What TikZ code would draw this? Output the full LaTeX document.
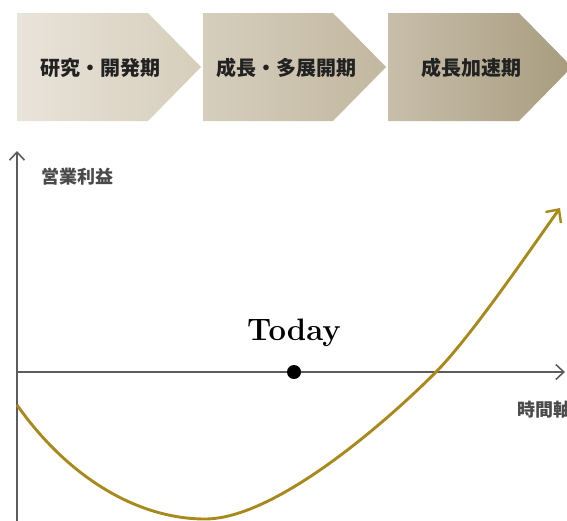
\documentclass[tikz,border=0pt]{standalone}
\usepackage{fontspec}
\newfontfamily\jpfont{Noto Sans CJK JP}
\usetikzlibrary{arrows.meta}
\definecolor{axisgray}{HTML}{5C5C5C}
\definecolor{gold}{HTML}{A8891C}
\definecolor{txtdark}{HTML}{222222}
\definecolor{cA}{HTML}{E9E4DA}
\definecolor{cB}{HTML}{D6CDBB}
\definecolor{cC}{HTML}{D6CEBD}
\definecolor{cD}{HTML}{C2B79F}
\definecolor{cE}{HTML}{C8BEAA}
\definecolor{cF}{HTML}{A89C7F}
\tikzset{
  chevlabel/.style={font=\jpfont\bfseries\fontsize{20}{20}\selectfont, text=txtdark, inner sep=0pt},
  axisline/.style={draw=axisgray, line width=1.9pt, -{Straight Barb[length=8pt,width=15pt,line width=1.6pt]}},
  axislabel/.style={font=\jpfont\bfseries\fontsize{18}{18}\selectfont, text=axisgray!80!black, inner sep=0pt, anchor=west},
  growth/.style={draw=gold, line width=2.9pt, -{Straight Barb[length=10pt,width=19pt,line width=2.4pt]}}
}
\begin{document}
\begin{tikzpicture}[x=1pt,y=-1pt]
\useasboundingbox (0,0) rectangle (567,520);
\clip (0,0) rectangle (567,520);
% chevrons
\shade[left color=cA, right color=cB] (17,13) -- (148,13) -- (201,67) -- (148,121) -- (17,121) -- cycle;
\shade[left color=cC, right color=cD] (203,13) -- (333,13) -- (386,67) -- (333,121) -- (203,121) -- cycle;
\shade[left color=cE, right color=cF] (388,13) -- (519,13) -- (572,67) -- (519,121) -- (388,121) -- cycle;
\node[chevlabel] (p1) at (100,68) {研究・開発期};
\node[chevlabel] (p2) at (286,68) {成長・多展開期};
\node[chevlabel] (p3) at (471,68) {成長加速期};
% axes
\coordinate (o) at (17,372);
\coordinate (ybot) at (17,522);
\coordinate (ytop) at (17,151);
\coordinate (xend) at (565,372);
\draw[axisline] (ybot) -- (ytop);
\draw[axisline] (o) -- (xend);
\node[axislabel] (yl) at (41,177) {営業利益};
\node[axislabel] (xl) at (517,410) {時間軸};
% today
\node[circle, fill=black, inner sep=0pt, minimum size=14pt] (today) at (294,372) {};
\node[font=\bfseries\fontsize{31}{31}\selectfont, inner sep=0pt] (todaylbl) at (294,333) {Today};
% curve
\coordinate (c0) at (17,405);
\coordinate (cmin) at (205,519);
\coordinate (ccross) at (435,373);
\coordinate (cend) at (560,208);
\draw[growth] (c0) .. controls (70,480) and (140,519) .. (cmin)
  .. controls (275,519) and (385,423) .. (ccross)
  .. controls (470,338) and (530,250) .. (cend);
\end{tikzpicture}
\end{document}
